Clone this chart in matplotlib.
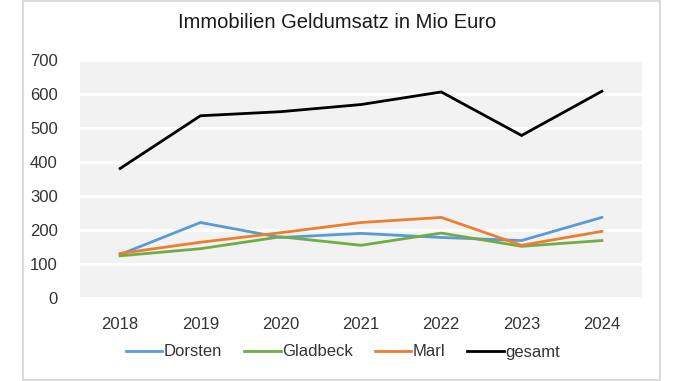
import matplotlib
matplotlib.use("Agg")
import matplotlib.pyplot as plt
from matplotlib.patches import Rectangle

years = ["2018", "2019", "2020", "2021", "2022", "2023", "2024"]
dorsten = [128, 222, 178, 190, 178, 169, 237]
gladbeck = [124, 145, 180, 155, 191, 152, 169]
marl = [131, 164, 192, 222, 237, 155, 196]
gesamt = [381, 536, 548, 569, 606, 478, 608]
yticks = [0, 100, 200, 300, 400, 500, 600, 700]

plt.rcParams['font.family'] = ['Liberation Sans', 'DejaVu Sans']

fig = plt.figure(figsize=(6.78, 3.81), dpi=100)
fig.patch.set_facecolor('white')
fig.add_artist(Rectangle((23/678, 0.002), (660-23)/678, 0.996, transform=fig.transFigure,
                         facecolor='none', edgecolor='#d4d4d4', linewidth=1.2))

ax = fig.add_axes([80/678, 1-298/381, (642-80)/678, (298-60)/381])
ax.set_facecolor('#f2f2f2')
x = list(range(len(years)))
lw = 2.0
ax.plot(x, dorsten, color='#5b9bd5', lw=lw, label='Dorsten', solid_joinstyle='miter')
ax.plot(x, gladbeck, color='#70ad47', lw=lw, label='Gladbeck', solid_joinstyle='miter')
ax.plot(x, marl, color='#ed7d31', lw=lw, label='Marl', solid_joinstyle='miter')
ax.plot(x, gesamt, color='#000000', lw=lw, label='gesamt', solid_joinstyle='miter')

ax.set_xlim(-0.5, len(years) - 0.5)
ax.set_ylim(0, 700)
ax.set_yticks(yticks)
ax.set_xticks(x)
ax.set_xticklabels(years)
ax.grid(axis='y', color='white', lw=2)
ax.set_axisbelow(True)
for s in ax.spines.values():
    s.set_visible(False)
ax.tick_params(axis='both', length=0, labelsize=12, colors='#333333')
ax.tick_params(axis='y', pad=16)
ax.tick_params(axis='x', pad=14)

fig.text(337/678, 1-23/381, 'Immobilien Geldumsatz in Mio Euro', ha='center', va='center',
         fontsize=14.5, color='#1a1a1a')

fig.legend(loc='center', bbox_to_anchor=(343/678, 1-352/381), ncol=4, frameon=False,
           fontsize=12, handlelength=2.2, handletextpad=0.1, columnspacing=1.3,
           labelcolor='#333333')

fig.savefig('out.png', dpi=100, facecolor='white')
